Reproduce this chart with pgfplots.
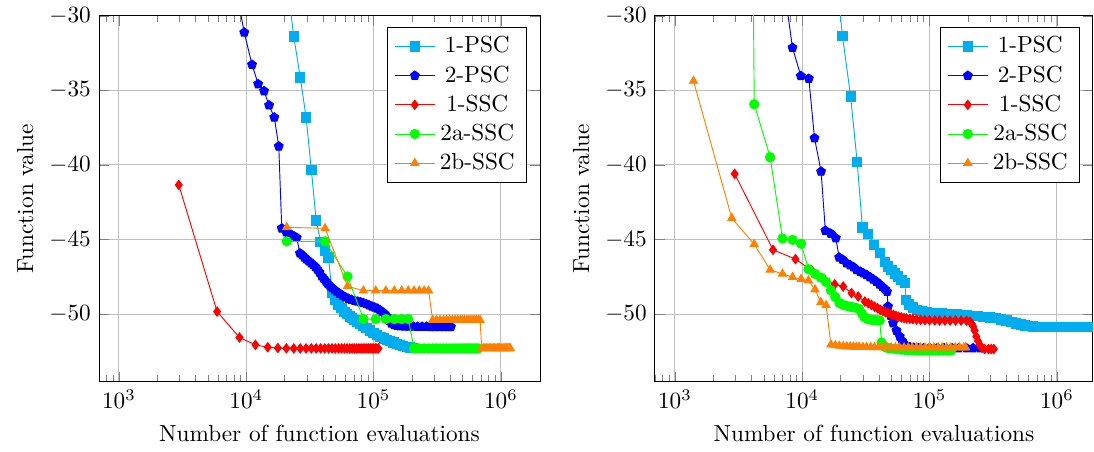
\documentclass[border=0pt]{standalone}
\usepackage{pgfplots}
\pgfplotsset{compat=1.18}
\definecolor{pscone}{RGB}{0,174,239}
\definecolor{psctwo}{RGB}{0,0,255}
\definecolor{sscone}{RGB}{255,0,0}
\definecolor{sscta}{RGB}{0,255,0}
\definecolor{ssctb}{RGB}{255,128,0}
\begin{document}
\begin{tikzpicture}
\path[use as bounding box] (-42.58pt,-29.81pt) rectangle (427.96pt,164.17pt);

% ---- left ----
\begin{axis}[xmode=log, scale only axis, width=189.7pt, height=157.4pt, xmin=697, xmax=2.03e6,
    ymin=-54.53, ymax=-30, ytick={-50,-45,-40,-35,-30}, grid=major,
    xlabel={Number of function evaluations}, ylabel={Function value},
    legend pos=north east, legend cell align=center, clip marker paths=true]
\addplot[color=pscone, mark=square*] coordinates {(20650,-27.3)(23600,-31.39)(26550,-34.13)(29500,-36.81)(32450,-40.34)
 (35400,-43.73)(38350,-45.14)(41300,-45.74)(44250,-46.2)(47200,-48.6)(50150,-49.05)(53100,-49.35)
 (56050,-49.6)(59000,-49.85)(61950,-50.0)(64900,-50.15)(67850,-50.28)(70800,-50.4)(73750,-50.5)
 (78000,-50.66)(83000,-50.8)(88000,-50.94)(94000,-51.1)(100000,-51.25)(106000,-51.39)(113000,-51.52)
 (120000,-51.63)(127000,-51.72)(135000,-51.82)(143000,-51.9)(152000,-51.99)(161000,-52.07)
 (171000,-52.13)(182000,-52.18)(193000,-52.23)(205000,-52.27)};
\addplot[color=psctwo, mark=pentagon*] coordinates {(8400,-28.4)(9640,-31.12)(11100,-33.28)(12400,-34.58)(13800,-35.05)
 (15100,-36.0)(16600,-36.81)(18000,-38.75)(19000,-44.25)(20600,-44.51)(21300,-44.55)(22500,-44.68)
 (23700,-44.78)(24900,-44.88)(26400,-45.92)(27500,-46.05)(28700,-46.2)(29800,-46.33)(31000,-46.45)
 (32300,-46.58)(33600,-46.7)(34900,-46.83)(36200,-47.0)(37600,-47.2)(39100,-47.45)(40600,-47.62)
 (42200,-47.8)(43800,-47.98)(45500,-48.12)(47300,-48.25)(49300,-48.38)(51500,-48.5)(54000,-48.62)
 (57000,-48.75)(60000,-48.86)(63500,-48.96)(67000,-49.03)(71000,-49.1)(75000,-49.15)(79000,-49.2)
 (83000,-49.25)(87500,-49.32)(92000,-49.4)(97000,-49.48)(102000,-49.55)(107000,-49.62)
 (112000,-49.74)(117000,-49.85)(122000,-49.98)(127000,-50.15)(132000,-50.45)(138000,-50.62)
 (145000,-50.72)(153000,-50.78)(162000,-50.8)(175000,-50.82)(190000,-50.83)(205000,-50.83)
 (222000,-50.84)(240000,-50.84)(260000,-50.84)(282000,-50.85)(305000,-50.85)(330000,-50.85)
 (357000,-50.85)(385000,-50.85)(405000,-50.85)};
\addplot[color=sscone, mark=diamond*] coordinates {(2950,-41.34)(5900,-49.83)(8850,-51.57)(11800,-52.06)(14750,-52.22)
 (17700,-52.27)(20650,-52.29)(23600,-52.3)(26550,-52.3)(29500,-52.3)(32450,-52.3)(35400,-52.3)
 (38350,-52.3)(41300,-52.3)(44250,-52.3)(47200,-52.3)(50150,-52.3)(53100,-52.3)(56050,-52.3)
 (59000,-52.3)(61950,-52.3)(64900,-52.3)(67850,-52.3)(70800,-52.3)(73750,-52.3)(76700,-52.3)
 (79650,-52.3)(82600,-52.3)(85550,-52.3)(88500,-52.3)(91450,-52.3)(94400,-52.3)(97350,-52.3)
 (100300,-52.3)(103250,-52.3)(106200,-52.3)(109150,-52.3)};
\addplot[color=sscta, mark=*] coordinates {(20800,-45.12)(41600,-45.12)(62400,-47.48)(83200,-50.33)(104000,-50.33)
 (124800,-50.33)(145600,-50.33)(166400,-50.33)(187200,-50.33)(208000,-52.3)(228800,-52.3)
 (249600,-52.3)(270400,-52.3)(291200,-52.3)(312000,-52.3)(332800,-52.3)(353600,-52.3)(374400,-52.3)
 (395200,-52.3)(416000,-52.3)(436800,-52.3)(457600,-52.3)(478400,-52.3)(499200,-52.3)(520000,-52.3)
 (540800,-52.3)(561600,-52.3)(582400,-52.3)(603200,-52.3)(624000,-52.3)(644800,-52.3)(665600,-52.3)};
\addplot[color=ssctb, mark=triangle*] coordinates {(20800,-44.18)(41600,-44.25)(62400,-48.13)(83200,-48.43)(104000,-48.43)
 (124800,-48.43)(145600,-48.43)(166400,-48.43)(187200,-48.43)(208000,-48.43)(228800,-48.43)
 (249600,-48.43)(270400,-48.43)(291200,-50.4)(312000,-50.4)(332800,-50.4)(353600,-50.4)(374400,-50.4)
 (395200,-50.4)(416000,-50.4)(436800,-50.4)(457600,-50.4)(478400,-50.4)(499200,-50.4)(520000,-50.4)
 (540800,-50.4)(561600,-50.4)(582400,-50.4)(603200,-50.4)(624000,-50.4)(644800,-50.4)(665600,-50.4)
 (686400,-50.4)(707200,-52.3)(728000,-52.3)(748800,-52.3)(769600,-52.3)(790400,-52.3)(811200,-52.3)
 (832000,-52.3)(852800,-52.3)(873600,-52.3)(894400,-52.3)(915200,-52.3)(936000,-52.3)(956800,-52.3)
 (977600,-52.3)(998400,-52.3)(1019200,-52.3)(1040000,-52.3)(1060800,-52.3)(1081600,-52.3)
 (1102400,-52.3)(1123200,-52.3)(1144000,-52.3)(1164800,-52.3)(1185600,-52.3)};
\legend{1-PSC,2-PSC,1-SSC,2a-SSC,2b-SSC}
\end{axis}

% ---- right ----
\begin{axis}[at={(239.1pt,0pt)}, xmode=log, scale only axis, width=188.4pt, height=157.4pt, xmin=697, xmax=1.92e6,
    ymin=-54.53, ymax=-30, ytick={-50,-45,-40,-35,-30}, grid=major,
    xlabel={Number of function evaluations}, ylabel={Function value},
    legend pos=north east, legend cell align=center, clip marker paths=true]
\addplot[color=pscone, mark=square*] coordinates {(17700,-25.7)(20700,-31.35)(24000,-35.42)(27000,-39.79)(29700,-44.19)
 (33000,-44.62)(36800,-45.35)(40600,-45.92)(44500,-46.5)(47400,-46.8)(50200,-47.03)(53400,-47.28)
 (56600,-47.48)(60200,-47.7)(63900,-47.9)(65500,-49.04)(69000,-49.35)(74300,-49.55)(80000,-49.7)
 (87000,-49.8)(94600,-49.86)(103000,-49.9)(113000,-49.94)(124000,-49.96)(136000,-49.98)
 (150000,-50.0)(165000,-50.02)(180000,-50.05)(195000,-50.07)(215000,-50.1)(240000,-50.14)
 (265000,-50.17)(297000,-50.22)(330000,-50.28)(365000,-50.35)(402000,-50.43)(440000,-50.52)
 (480000,-50.62)(520000,-50.7)(560000,-50.77)(600000,-50.81)(645000,-50.83)(690000,-50.84)
 (750000,-50.84)(820000,-50.84)(900000,-50.84)(990000,-50.84)(1100000,-50.84)(1220000,-50.84)
 (1350000,-50.84)(1500000,-50.84)(1660000,-50.84)(1840000,-50.84)(2040000,-50.84)};
\addplot[color=psctwo, mark=pentagon*] coordinates {(7000,-27.3)(8390,-32.14)(9750,-34.03)(11270,-34.21)(12490,-38.2)
 (14070,-40.44)(15200,-44.4)(16770,-44.6)(18350,-44.9)(19500,-46.2)(20800,-46.35)(22300,-46.59)
 (23800,-46.72)(25300,-46.85)(26700,-47.03)(28500,-47.15)(30200,-47.26)(32000,-47.37)(34000,-47.52)
 (36100,-47.67)(38300,-47.82)(40500,-48.0)(42700,-48.18)(44700,-48.33)(46400,-48.49)(47200,-49.49)
 (49500,-50.1)(51700,-50.6)(55000,-51.1)(58400,-51.5)(61000,-51.8)(63900,-52.06)(66800,-52.15)
 (69900,-52.21)(75000,-52.25)(82000,-52.27)(90000,-52.28)(100000,-52.28)(115000,-52.28)
 (130000,-52.28)(150000,-52.28)(170000,-52.28)(195000,-52.28)(220000,-52.28)(250000,-52.28)};
\addplot[color=sscone, mark=diamond*] coordinates {(2950,-40.6)(5900,-45.69)(8850,-46.31)(11800,-47.05)(15000,-47.7)
 (18000,-48.0)(21000,-48.15)(24400,-48.59)(27500,-48.82)(31000,-49.16)(33000,-49.27)(35000,-49.38)
 (37000,-49.5)(39000,-49.6)(41000,-49.71)(43000,-49.8)(45000,-49.87)(47200,-49.93)(49500,-49.99)
 (52000,-50.05)(54500,-50.12)(57000,-50.17)(60000,-50.22)(63000,-50.26)(66000,-50.29)(70000,-50.31)
 (74000,-50.33)(79000,-50.36)(85000,-50.38)(92000,-50.4)(100000,-50.41)(110000,-50.42)
 (120000,-50.43)(132000,-50.43)(145000,-50.43)(160000,-50.43)(177000,-50.43)(195000,-50.44)
 (208000,-50.5)(215000,-50.65)(220000,-50.83)(226000,-51.1)(233000,-51.5)(240000,-51.8)
 (248000,-52.06)(258000,-52.25)(271000,-52.34)(290000,-52.34)(305000,-52.34)(320000,-52.34)};
\addplot[color=sscta, mark=*] coordinates {(2800,150)(4200,-35.93)(5600,-39.48)(7000,-44.93)(8400,-45.02)(9800,-45.28)
 (11200,-46.99)(12600,-47.3)(14000,-47.55)(15400,-47.85)(16800,-48.4)(18200,-48.85)(19600,-49.25)
 (21000,-49.38)(22400,-49.45)(23800,-49.5)(25200,-49.55)(26600,-49.58)(28000,-49.65)(29400,-49.95)
 (30800,-50.2)(32200,-50.3)(33600,-50.35)(35000,-50.38)(36400,-50.4)(37800,-50.41)(39200,-50.42)
 (40600,-50.42)(42000,-51.9)(43400,-52.1)(44800,-52.2)(46200,-52.25)(47600,-52.28)(50000,-52.3)
 (53000,-52.33)(56000,-52.36)(60000,-52.38)(64000,-52.4)(68000,-52.41)(73000,-52.42)(78000,-52.43)
 (84000,-52.44)(90000,-52.44)(97000,-52.44)(104000,-52.44)(112000,-52.44)(120000,-52.44)
 (129000,-52.44)(138000,-52.44)(148000,-52.44)};
\addplot[color=ssctb, mark=triangle*] coordinates {(1400,-34.37)(2800,-43.57)(4200,-45.31)(5600,-47.03)(7000,-47.3)
 (8400,-47.52)(9800,-47.65)(11200,-47.75)(12600,-48.35)(14000,-49.2)(15400,-49.4)(16800,-52.05)
 (18200,-52.1)(19600,-52.13)(21000,-52.16)(22400,-52.17)(23800,-52.18)(25200,-52.19)(26600,-52.2)
 (28000,-52.2)(30000,-52.21)(32000,-52.21)(34500,-52.22)(37000,-52.22)(40000,-52.23)(43000,-52.23)
 (46000,-52.24)(50000,-52.24)(54000,-52.24)(58000,-52.24)(63000,-52.24)(68000,-52.24)(73000,-52.24)
 (79000,-52.24)(85000,-52.24)(92000,-52.24)(100000,-52.24)(108000,-52.24)(117000,-52.24)
 (126000,-52.24)(136000,-52.24)(147000,-52.24)(159000,-52.24)(172000,-52.24)(186000,-52.24)
 (192000,-52.24)};
\legend{1-PSC,2-PSC,1-SSC,2a-SSC,2b-SSC}
\end{axis}
\end{tikzpicture}
\end{document}
